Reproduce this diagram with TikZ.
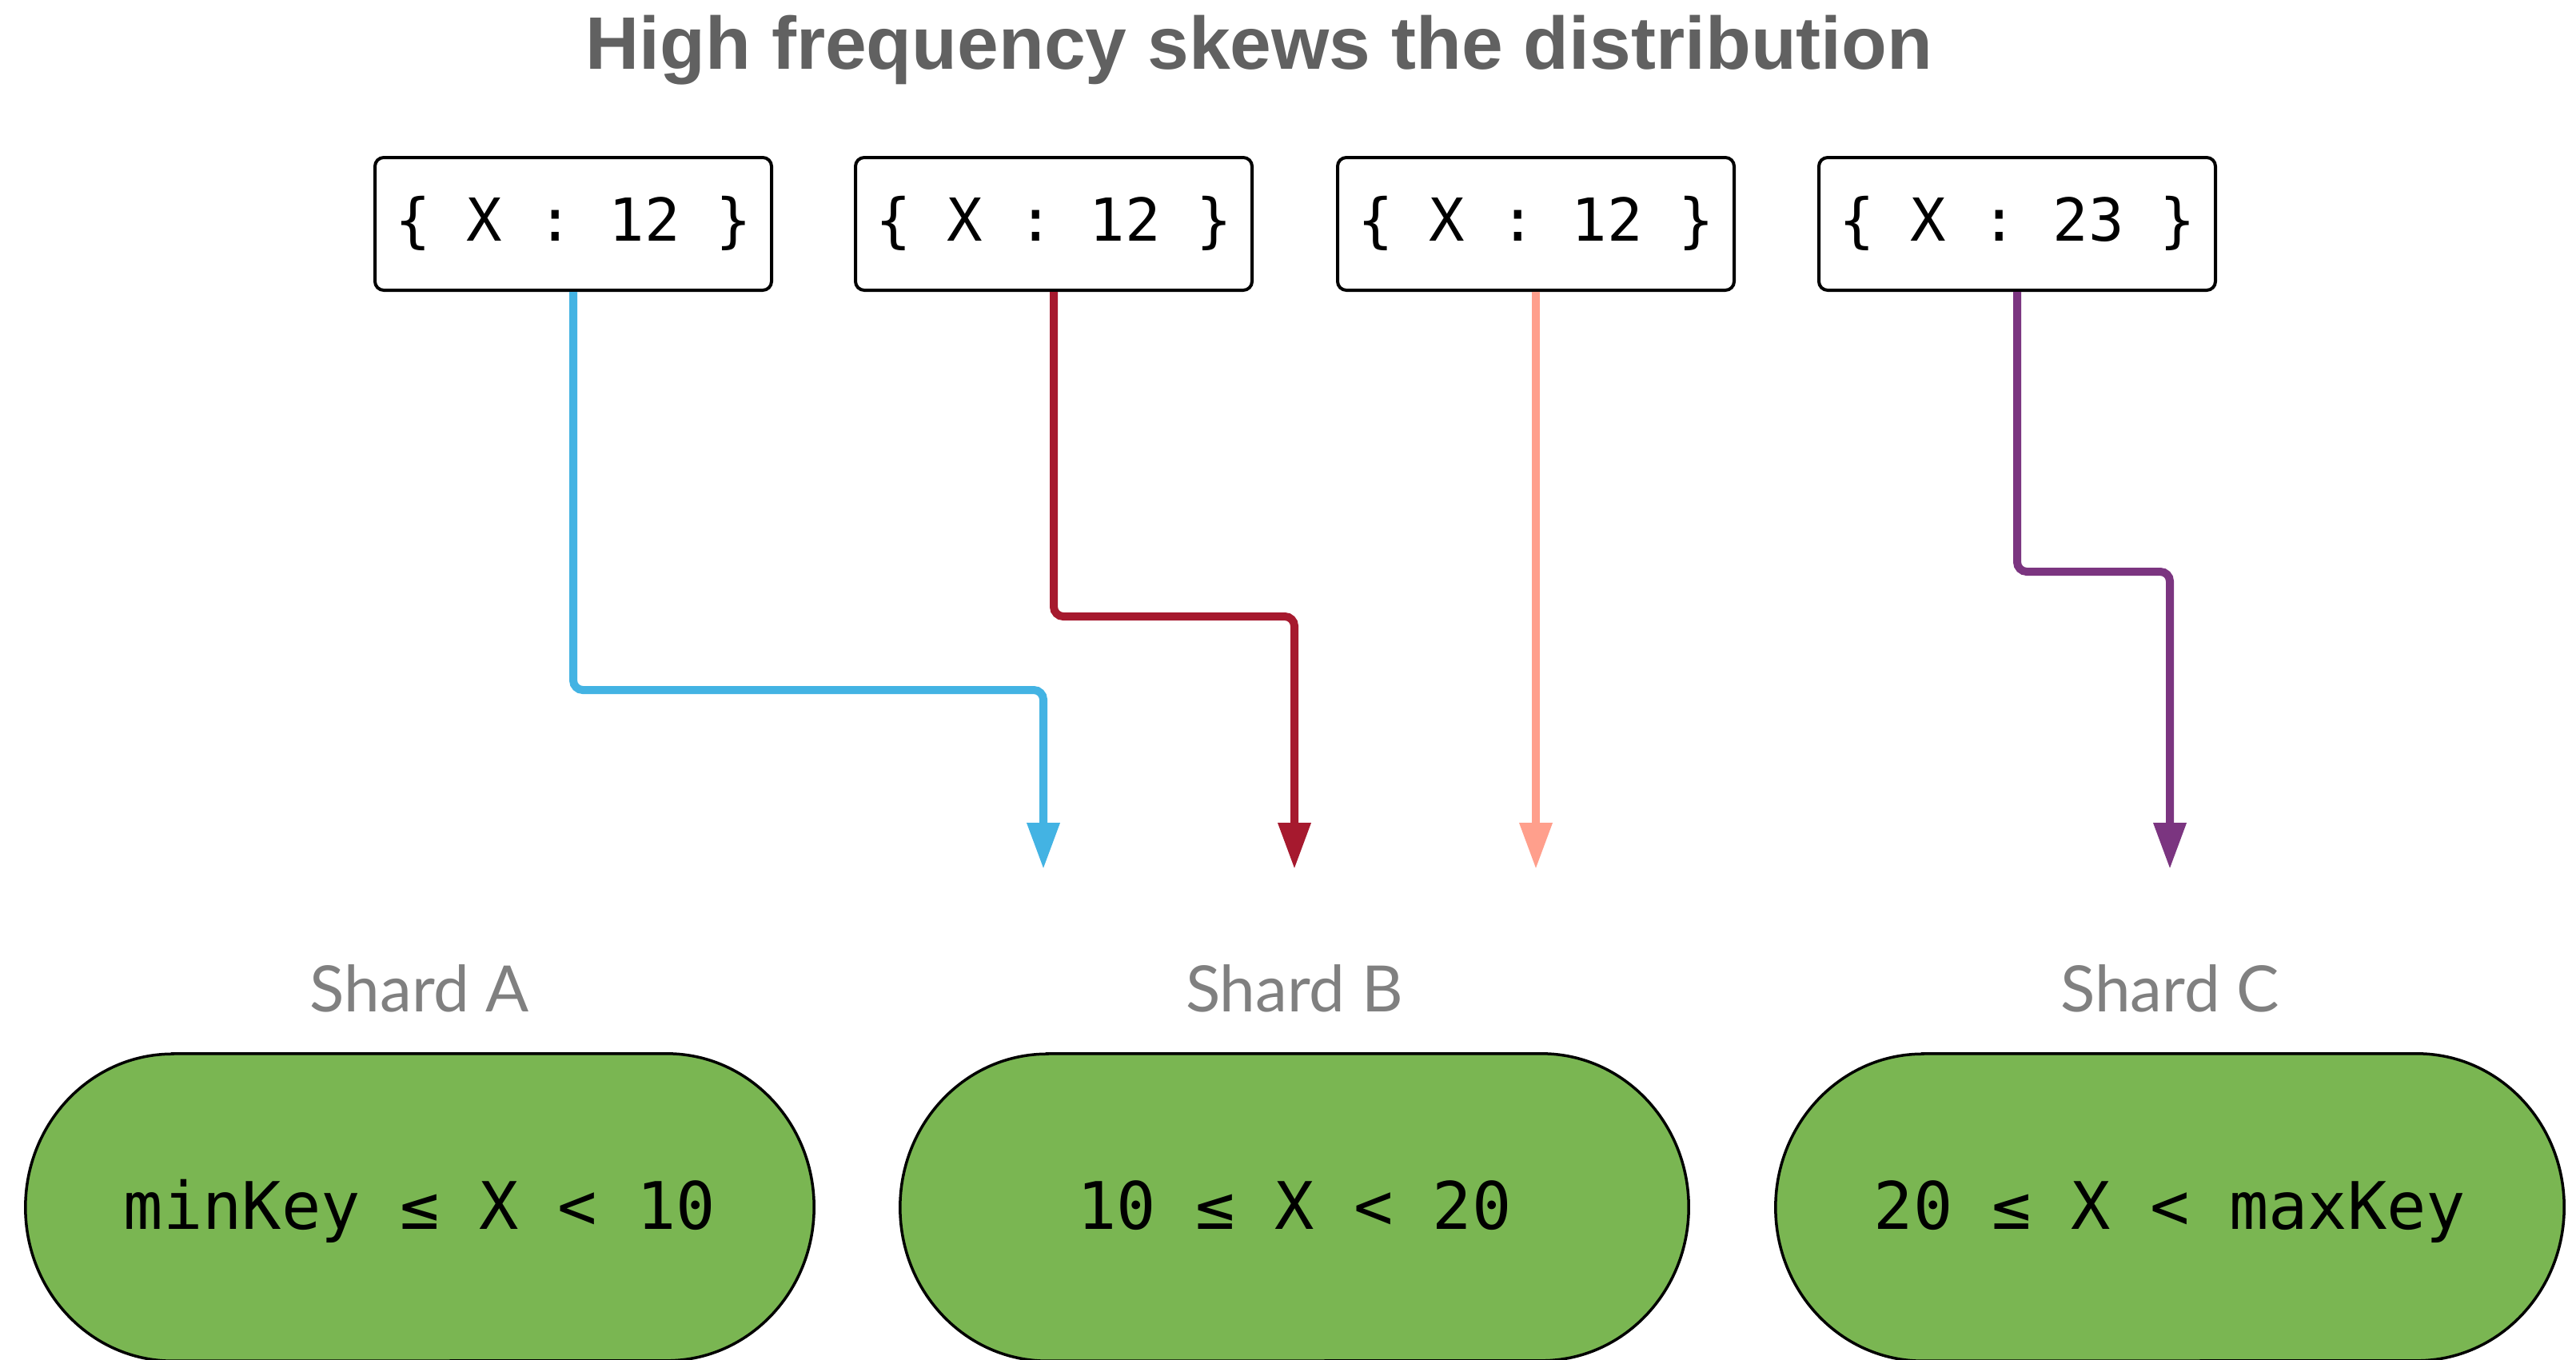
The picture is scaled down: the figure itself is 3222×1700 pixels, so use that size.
\documentclass[tikz,border=0pt]{standalone}
\usepackage{fontspec}
\setmainfont{Liberation Sans}
\newfontfamily\monofnt{DejaVu Sans Mono}
\newfontfamily\labelfnt{Lato}
\newfontfamily\titlefnt{Liberation Sans}
\usetikzlibrary{arrows.meta,backgrounds}
\definecolor{cblue}{HTML}{43B3E3}
\definecolor{cred}{HTML}{A6192E}
\definecolor{csalmon}{HTML}{FF9F8C}
\definecolor{cpurple}{HTML}{7B3580}
\definecolor{shardgreen}{HTML}{7AB652}
\definecolor{titlegray}{HTML}{616161}
\definecolor{labelgray}{HTML}{808080}
\tikzset{
  docbox/.style={draw=black, line width=4pt, rounded corners=11pt, fill=white,
    minimum width=496pt, minimum height=166pt, inner sep=0pt,
    text height=58pt, text depth=15pt,
    font=\monofnt\fontsize{74}{80}\selectfont},
  shardnode/.style={draw=none, minimum width=986pt, minimum height=384pt, inner sep=0pt,
    text height=64pt, text depth=10pt,
    font=\monofnt\fontsize{82}{90}\selectfont},
  shardline/.style={draw=black, line width=3.5pt, fill=shardgreen},
  shardlabel/.style={anchor=base, text=labelgray, inner sep=0pt,
    font=\labelfnt\fontsize{80}{90}\selectfont},
  conn/.style={line width=10pt, rounded corners=12pt,
    -{Triangle[length=58pt,width=39pt]}},
}
\begin{document}
\begin{tikzpicture}[x=1pt,y=-1pt]
\useasboundingbox (0,0) rectangle (3222,1700);
% title
\node[anchor=base, inner sep=0pt, text=titlegray, font=\titlefnt\bfseries\fontsize{93}{110}\selectfont]
  (title) at (1575,86) {High frequency skews the distribution};
% documents
\node[docbox] (b1) at (717,280) {\{ X : 12 \}};
\node[docbox] (b2) at (1318,280) {\{ X : 12 \}};
\node[docbox] (b3) at (1921,280) {\{ X : 12 \}};
\node[docbox] (b4) at (2523,280) {\{ X : 23 \}};
% shard labels
\node[shardlabel] (lA) at (525,1265) {Shard A};
\node[shardlabel] (lB) at (1619,1265) {Shard B};
\node[shardlabel] (lC) at (2714,1265) {Shard C};
% shards
\node[shardnode] (sA) at (525,1510) {minKey ≤ X < 10};
\node[shardnode] (sB) at (1619,1510) {10 ≤ X < 20};
\node[shardnode] (sC) at (2714,1510) {20 ≤ X < maxKey};
\begin{pgfonlayer}{background}
\foreach \s in {sA,sB,sC}{
  \draw[shardline] ([xshift=184pt]\s.north west) -- ([xshift=-184pt]\s.north east)
    arc[start angle=90, end angle=-90, x radius=184pt, y radius=192pt]
    -- ([xshift=184pt]\s.south west)
    arc[start angle=270, end angle=90, x radius=184pt, y radius=192pt] -- cycle;
}
\end{pgfonlayer}
% arrow targets
\coordinate (tA) at (1305,1087);
\coordinate (tB) at (1619,1087);
\coordinate (tC) at (1921,1087);
\coordinate (tD) at (2714,1087);
% connectors
\draw[conn, cblue] (b1.south) -- (b1.south |- 0,863) -- (tA |- 0,863) -- (tA);
\draw[conn, cred] (b2.south) -- (b2.south |- 0,771) -- (tB |- 0,771) -- (tB);
\draw[conn, csalmon] (b3.south) -- (tC);
\draw[conn, cpurple] (b4.south) -- (b4.south |- 0,715) -- (tD |- 0,715) -- (tD);
\end{tikzpicture}
\end{document}
